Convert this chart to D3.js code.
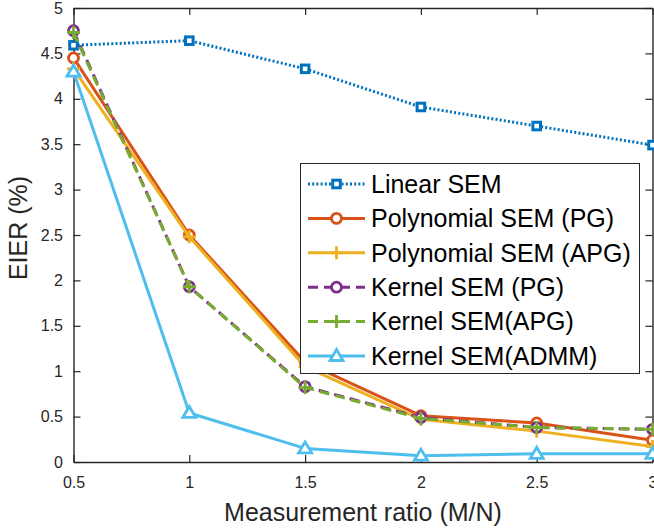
<!DOCTYPE html>
<html>
<head>
<meta charset="utf-8">
<script src="https://cdn.jsdelivr.net/npm/d3@7"></script>
<style>
	body { margin: 0; background: #fff; }
	svg { display: block; font-family: "Liberation Sans", Arial, sans-serif; }
</style>
</head>
<body>
<div id="app"></div>
<script>
const ratios = [0.5, 1, 1.5, 2, 2.5, 3];
const linearSEM = [4.59, 4.64, 4.33, 3.91, 3.70, 3.49];
const polyPG = [4.45, 2.50, 1.10, 0.51, 0.43, 0.24];
const polyAPG = [4.33, 2.48, 1.05, 0.47, 0.34, 0.17];
const kernelPG = [4.75, 1.93, 0.83, 0.49, 0.38, 0.36];
const kernelAPG = [4.73, 1.93, 0.82, 0.48, 0.38, 0.36];
const kernelADMM = [4.30, 0.54, 0.15, 0.07, 0.09, 0.09];
const xTicks = [0.5, 1, 1.5, 2, 2.5, 3];
const yTicks = [0, 0.5, 1, 1.5, 2, 2.5, 3, 3.5, 4, 4.5, 5];

const series = [
	{ name: 'Linear SEM', values: linearSEM, color: '#0072BD', dash: '2,2.2', marker: 'square' },
	{ name: 'Polynomial SEM (PG)', values: polyPG, color: '#D95319', dash: null, marker: 'circle' },
	{ name: 'Polynomial SEM (APG)', values: polyAPG, color: '#EDB120', dash: null, marker: 'plus' },
	{ name: 'Kernel SEM (PG)', values: kernelPG, color: '#7E2F8E', dash: '10,6', marker: 'circle' },
	{ name: 'Kernel SEM(APG)', values: kernelAPG, color: '#77AC30', dash: '10,6', marker: 'plus' },
	{ name: 'Kernel SEM(ADMM)', values: kernelADMM, color: '#4DBEEE', dash: null, marker: 'triangle' },
];

const width = 654;
const height = 531;
const axisColor = '#262626';

const x = d3.scaleLinear().domain([0.5, 3]).range([73.5, 652.5]);
const y = d3.scaleLinear().domain([0, 5]).range([462, 8]);

const svg = d3.select('#app').append('svg')
	.attr('width', width)
	.attr('height', height);

const drawMarker = (g, type, color) => {
	switch (type) {
		case 'square':
			g.append('rect')
				.attr('x', -3.8).attr('y', -3.8)
				.attr('width', 7.6).attr('height', 7.6)
				.attr('fill', '#fff')
				.attr('stroke', color)
				.attr('stroke-width', 3);
			break;
		case 'circle':
			g.append('circle')
				.attr('r', 5)
				.attr('fill', '#fff')
				.attr('stroke', color)
				.attr('stroke-width', 2.8);
			break;
		case 'plus':
			g.append('path')
				.attr('d', 'M-6.5,0H6.5M0,-6.5V6.5')
				.attr('fill', 'none')
				.attr('stroke', color)
				.attr('stroke-width', 2.8);
			break;
		case 'triangle':
			g.append('path')
				.attr('d', 'M0,-6.5L6.5,4.5L-6.5,4.5Z')
				.attr('fill', '#fff')
				.attr('stroke', color)
				.attr('stroke-width', 2.8)
				.attr('stroke-linejoin', 'miter');
			break;
	}
};

// axes (inward ticks, box on)
const styleAxis = (g) => {
	g.selectAll('path.domain').attr('stroke', axisColor).attr('stroke-width', 1.4).attr('fill', 'none');
	g.selectAll('.tick line').attr('stroke', axisColor).attr('stroke-width', 1.2);
	g.selectAll('.tick text').attr('fill', axisColor).attr('font-size', 16).attr('font-family', null);
};

svg.append('g')
	.attr('transform', `translate(0,${y(0)})`)
	.call(d3.axisBottom(x).tickValues(xTicks).tickSize(-7).tickSizeOuter(0).tickPadding(14.5).tickFormat(d3.format('')))
	.call(styleAxis);

svg.append('g')
	.attr('transform', `translate(0,${y(5)})`)
	.call(d3.axisTop(x).tickValues(xTicks).tickSize(-7).tickSizeOuter(0).tickFormat(''))
	.call(styleAxis);

svg.append('g')
	.attr('transform', `translate(${x(0.5)},0)`)
	.call(d3.axisLeft(y).tickValues(yTicks).tickSize(-7).tickSizeOuter(0).tickPadding(10.5).tickFormat(d3.format('')))
	.call(styleAxis);

svg.append('g')
	.attr('transform', `translate(${x(3)},0)`)
	.call(d3.axisRight(y).tickValues(yTicks).tickSize(-7).tickSizeOuter(0).tickFormat(''))
	.call(styleAxis);

// lines and markers
const line = d3.line()
	.x((d, i) => x(ratios[i]))
	.y((d) => y(d));

series.forEach((s) => {
	svg.append('path')
		.datum(s.values)
		.attr('d', line)
		.attr('fill', 'none')
		.attr('stroke', s.color)
		.attr('stroke-width', 3)
		.attr('stroke-linejoin', 'round')
		.attr('stroke-dasharray', s.dash);

	svg.append('g')
		.selectAll('g')
		.data(s.values)
		.join('g')
		.attr('transform', (d, i) => `translate(${x(ratios[i])},${y(d)})`)
		.each(function () { drawMarker(d3.select(this), s.marker, s.color); });
});

// axis labels
svg.append('text')
	.attr('x', (x(0.5) + x(3)) / 2)
	.attr('y', 521)
	.attr('text-anchor', 'middle')
	.attr('font-size', 25)
	.attr('fill', axisColor)
	.text('Measurement ratio (M/N)');

svg.append('text')
	.attr('transform', 'translate(27,228) rotate(-90)')
	.attr('text-anchor', 'middle')
	.attr('font-size', 25)
	.attr('fill', axisColor)
	.text('EIER (%)');

// legend
const legend = svg.append('g');
legend.append('rect')
	.attr('x', 300.5).attr('y', 163.5)
	.attr('width', 339).attr('height', 210)
	.attr('fill', '#fff')
	.attr('stroke', axisColor)
	.attr('stroke-width', 1);

const rowY = d3.scaleLinear().domain([0, series.length - 1]).range([184, 356]);

series.forEach((s, i) => {
	const row = legend.append('g').attr('transform', `translate(0,${rowY(i)})`);
	row.append('line')
		.attr('x1', 308).attr('x2', 365)
		.attr('stroke', s.color)
		.attr('stroke-width', 3)
		.attr('stroke-dasharray', s.dash);
	drawMarker(row.append('g').attr('transform', 'translate(336.5,0)'), s.marker, s.color);
	row.append('text')
		.attr('x', 371)
		.attr('dy', '0.35em')
		.attr('font-size', 25)
		.attr('fill', '#000')
		.text(s.name);
});
</script>
</body>
</html>
